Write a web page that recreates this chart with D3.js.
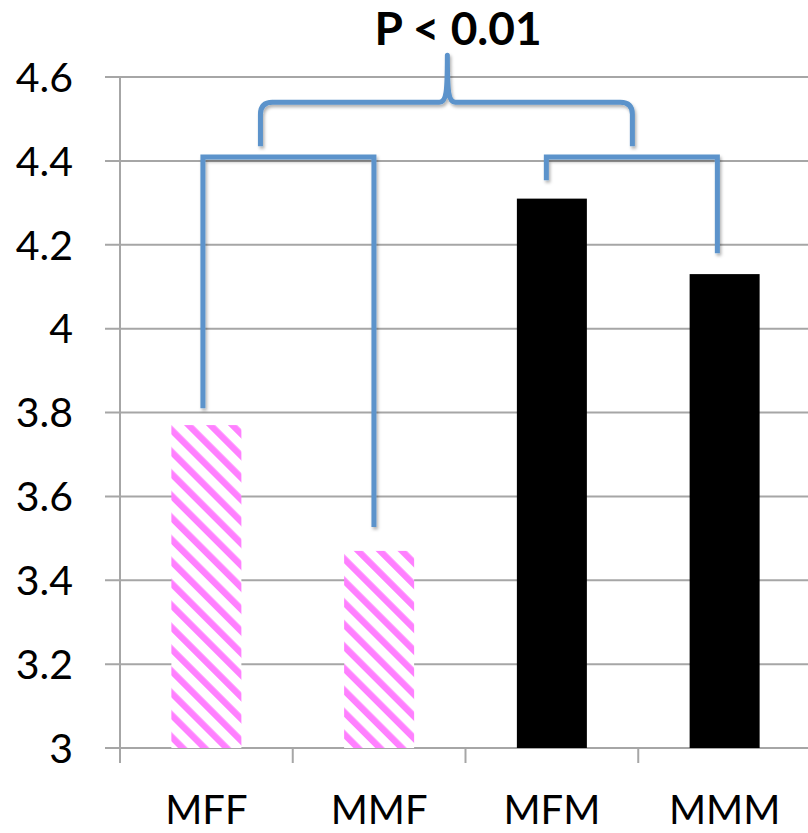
<!DOCTYPE html>
<html><head><meta charset="utf-8">
<script src="https://cdn.jsdelivr.net/npm/d3@7"></script>
<style>html,body{margin:0;padding:0;background:#fff;overflow:hidden}</style>
</head><body>
<svg id="c" width="808" height="833"></svg>
<script>
const categories = ["MFF", "MMF", "MFM", "MMM"];
const values = [3.77, 3.47, 4.31, 4.13];
const striped = [true, true, false, false];
const yTicks = [3, 3.2, 3.4, 3.6, 3.8, 4, 4.2, 4.4, 4.6];
const yTickLabels = ["3", "3.2", "3.4", "3.6", "3.8", "4", "4.2", "4.4", "4.6"];
const title = "P < 0.01";
// bracket annotations: [leftIndex, rightIndex, leftBottom, rightBottom, top]
const brackets = [
  [-0.02, 0.97, 3.81, 3.527, 4.409],
  [1.968, 2.958, 4.354, 4.18, 4.409]
];
// curly brace: left index, peak index, right index, bottom value, line value, peak value
const brace = {left: 0.313, peak: 1.395, right: 2.466, bottom: 4.435, line: 4.54, top: 4.652};

const svg = d3.select("#c");
const font = "Lato, 'Open Sans', sans-serif";
const y = d3.scaleLinear().domain([3, 4.6]).range([748, 77]);
const x = d3.scaleBand().domain(categories).range([120, 811]).padding(0);
const xi = d3.scaleLinear().domain([0, 1]).range([x(categories[0]) + x.bandwidth()/2, x(categories[1]) + x.bandwidth()/2]);
const barW = 70;
const grid = "#a6a6a6";
const blue = "#5b93cb";

const defs = svg.append("defs");
const pat = defs.append("pattern").attr("id", "stripes").attr("patternUnits", "userSpaceOnUse")
  .attr("width", 15.5).attr("height", 15.5).attr("patternTransform", "rotate(-45)");
pat.append("rect").attr("width", 15.5).attr("height", 15.5).attr("fill", "#fff");
pat.append("rect").attr("width", 6.5).attr("height", 15.5).attr("fill", "#ff80ff");
const f = defs.append("filter").attr("id", "sh").attr("x", "-20%").attr("y", "-20%").attr("width", "140%").attr("height", "140%");
f.append("feDropShadow").attr("dx", 1.5).attr("dy", 2.5).attr("stdDeviation", 1.5).attr("flood-color", "#000").attr("flood-opacity", 0.3);

// gridlines
svg.append("g").selectAll("line").data(yTicks).join("line")
  .attr("x1", 105).attr("x2", 808).attr("y1", d => y(d)).attr("y2", d => y(d))
  .attr("stroke", grid).attr("stroke-width", 2);
// y axis line
svg.append("line").attr("x1", 120).attr("x2", 120).attr("y1", y(4.6)).attr("y2", y(3) + 15)
  .attr("stroke", grid).attr("stroke-width", 2);
// x category ticks
svg.append("g").selectAll("line").data(categories.slice(1)).join("line")
  .attr("x1", d => x(d)).attr("x2", d => x(d)).attr("y1", y(3)).attr("y2", y(3) + 15)
  .attr("stroke", grid).attr("stroke-width", 2);

// y labels
svg.append("g").selectAll("text").data(yTicks).join("text")
  .attr("x", 73).attr("y", d => y(d)).attr("dy", "0.36em").attr("text-anchor", "end")
  .attr("font-family", font).attr("font-size", 41).attr("fill", "#000")
  .text((d, i) => yTickLabels[i]);
// x labels
svg.append("g").selectAll("text").data(categories).join("text")
  .attr("x", d => x(d) + x.bandwidth()/2).attr("y", 824).attr("text-anchor", "middle")
  .attr("font-family", font).attr("font-size", 40).attr("fill", "#000").text(d => d);

// bars
svg.append("g").selectAll("rect").data(categories).join("rect")
  .attr("x", d => x(d) + x.bandwidth()/2 - barW/2).attr("width", barW)
  .attr("y", (d, i) => y(values[i])).attr("height", (d, i) => y(3) - y(values[i]))
  .attr("fill", (d, i) => striped[i] ? "url(#stripes)" : "#000");

// brackets
const bg = svg.append("g").attr("filter", "url(#sh)").attr("fill", "none").attr("stroke", blue).attr("stroke-width", 5);
brackets.forEach(b => {
  const p = d3.path();
  p.moveTo(xi(b[0]), y(b[2]));
  p.lineTo(xi(b[0]), y(b[4]));
  p.lineTo(xi(b[1]), y(b[4]));
  p.lineTo(xi(b[1]), y(b[3]));
  bg.append("path").attr("d", p.toString());
});
// curly brace
{
  const L = xi(brace.left), R = xi(brace.right), P = xi(brace.peak);
  const yb = y(brace.bottom), yl = y(brace.line), yt = y(brace.top);
  const r = 12;
  const p = d3.path();
  p.moveTo(L, yb);
  p.lineTo(L, yl + r);
  p.quadraticCurveTo(L, yl, L + r, yl);
  p.lineTo(P - 8, yl);
  p.bezierCurveTo(P - 1, yl, P, yl - 10, P, yt);
  p.bezierCurveTo(P, yl - 10, P + 1, yl, P + 8, yl);
  p.lineTo(R - r, yl);
  p.quadraticCurveTo(R, yl, R, yl + r);
  p.lineTo(R, yb);
  bg.append("path").attr("d", p.toString()).attr("stroke-linejoin", "round");
}

// title
svg.append("text").attr("x", 458).attr("y", 45).attr("text-anchor", "middle")
  .attr("font-family", font).attr("font-weight", "bold").attr("font-size", 46).attr("fill", "#000").text(title);
</script>
</body></html>
